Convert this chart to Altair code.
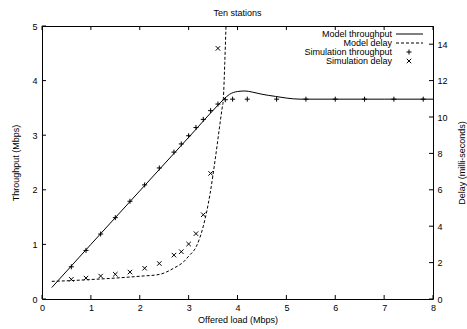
import altair as alt
import pandas as pd

FONT = "Liberation Sans"

# ---- data ----
x_ticks = [0, 1, 2, 3, 4, 5, 6, 7, 8]
tp_ticks = [0, 1, 2, 3, 4, 5]
delay_ticks = [0, 2, 4, 6, 8, 10, 12, 14]

model_tp_load = [0.2, 1.0, 2.0, 3.0, 3.6, 3.72, 3.84, 4.0, 4.15, 4.3, 4.5, 4.78, 5.0, 5.28, 6.0, 7.0, 8.0]
model_tp = [0.21, 1.0, 1.98, 2.96, 3.55, 3.66, 3.75, 3.80, 3.81, 3.79, 3.75, 3.71, 3.68, 3.66, 3.66, 3.66, 3.66]

model_delay_load = [0.2, 0.5, 1.0, 1.5, 2.0, 2.4, 2.7, 2.9, 3.0, 3.16, 3.3, 3.44, 3.54, 3.63, 3.68, 3.71, 3.74, 3.765]
model_delay = [0.97, 1.0, 1.07, 1.15, 1.25, 1.35, 1.7, 2.05, 2.35, 2.9, 4.0, 5.8, 7.6, 9.4, 10.4, 11.0, 13.0, 15.0]

sim_tp_load = [0.6, 0.9, 1.2, 1.5, 1.8, 2.1, 2.4, 2.7, 2.85, 3.0, 3.15, 3.3, 3.45, 3.6, 3.75, 3.9, 4.2, 4.8, 5.4, 6.0, 6.6, 7.2, 7.8]
sim_tp = [0.59, 0.89, 1.19, 1.49, 1.79, 2.09, 2.40, 2.69, 2.84, 2.99, 3.14, 3.29, 3.45, 3.57, 3.65, 3.66, 3.66, 3.66, 3.66, 3.66, 3.66, 3.66, 3.66]

sim_delay_load = [0.6, 0.9, 1.2, 1.5, 1.8, 2.1, 2.4, 2.7, 2.85, 3.0, 3.15, 3.3, 3.45, 3.6]
sim_delay = [1.08, 1.15, 1.26, 1.36, 1.48, 1.69, 1.95, 2.41, 2.60, 3.02, 3.59, 4.63, 6.9, 13.77]

legend_labels = ["Model throughput", "Model delay", "Simulation throughput", "Simulation delay"]

# ---- layout / style ----
W, H = 391, 273
TICK = 4
PLUS = "M-1,0L1,0M0,-1L0,1"
CROSS = "M-1,-1L1,1M-1,1L1,-1"
PLUS_SIZE = 25
CROSS_SIZE = 20

xscale = alt.Scale(domain=[0, 8], nice=False, zero=False)
ytp_scale = alt.Scale(domain=[0, 5], nice=False)
yd_scale = alt.Scale(domain=[0, 15], nice=False)

common = dict(ticks=False, domain=False, grid=False, labelFontSize=9, titleFontSize=9,
              labelFont=FONT, titleFont=FONT, titleFontWeight="normal",
              labelColor="black", titleColor="black", labelFlush=False, labelOverlap=False)

x_axis = alt.Axis(title="Offered load (Mbps)", values=x_ticks, orient="bottom",
                  labelPadding=4, titlePadding=3, **common)
y_axis = alt.Axis(title="Throughput (Mbps)", values=tp_ticks, orient="left",
                  labelPadding=5, titlePadding=11, **common)
y2_axis = alt.Axis(title="Delay (milli-seconds)", values=delay_ticks, orient="right",
                   labelPadding=4, titlePadding=10, titleAngle=270, titleBaseline="top", **common)

X = alt.X("load:Q", scale=xscale, axis=x_axis)

df_mtp = pd.DataFrame({"load": model_tp_load, "tp": model_tp})
df_stp = pd.DataFrame({"load": sim_tp_load, "tp": sim_tp})
df_md = pd.DataFrame({"load": model_delay_load, "delay": model_delay})
df_sd = pd.DataFrame({"load": sim_delay_load, "delay": sim_delay})

Ytp = alt.Y("tp:Q", scale=ytp_scale, axis=y_axis)
Yd = alt.Y("delay:Q", scale=yd_scale, axis=y2_axis)

mtp_line = alt.Chart(df_mtp).mark_line(color="black", strokeWidth=1, interpolate="monotone").encode(x=X, y=Ytp)
stp_pts = alt.Chart(df_stp).mark_point(shape=PLUS, size=PLUS_SIZE, filled=False, color="black", strokeWidth=1, opacity=1).encode(x=X, y=Ytp)
left_ticks = alt.Chart(pd.DataFrame({"tp": tp_ticks})).mark_rule(color="black", strokeWidth=1).encode(
    y=Ytp, x=alt.value(0), x2=alt.value(TICK))

md_line = alt.Chart(df_md).mark_line(color="black", strokeWidth=1, strokeDash=[3, 2], interpolate="monotone", clip=True).encode(x=X, y=Yd)
sd_pts = alt.Chart(df_sd).mark_point(shape=CROSS, size=CROSS_SIZE, filled=False, color="black", strokeWidth=1, opacity=1).encode(x=X, y=Yd)
right_ticks = alt.Chart(pd.DataFrame({"delay": delay_ticks})).mark_rule(color="black", strokeWidth=1).encode(
    y=Yd, x=alt.value(W - TICK), x2=alt.value(W))

df_xt = pd.DataFrame({"load": x_ticks})
bottom_ticks = alt.Chart(df_xt).mark_rule(color="black", strokeWidth=1).encode(x=X, y=alt.value(H - TICK), y2=alt.value(H))
top_ticks = alt.Chart(df_xt).mark_rule(color="black", strokeWidth=1).encode(x=X, y=alt.value(0), y2=alt.value(TICK))

# ---- legend (text right-aligned, samples on the right) ----
LX_TEXT, LX0, LX1, LXC = 350, 354, 381, 367
rows = [8, 17, 26, 35]
leg = []
for i, lab in enumerate(legend_labels):
    leg.append(alt.Chart(pd.DataFrame({"label": [lab]})).mark_text(
        align="right", baseline="middle", fontSize=9, font=FONT, color="black").encode(
        text="label:N", x=alt.value(LX_TEXT), y=alt.value(rows[i])))
leg.append(alt.Chart(pd.DataFrame({"label": [legend_labels[0]]})).mark_rule(color="black", strokeWidth=1).encode(
    x=alt.value(LX0), x2=alt.value(LX1), y=alt.value(rows[0])))
leg.append(alt.Chart(pd.DataFrame({"label": [legend_labels[1]]})).mark_rule(color="black", strokeWidth=1, strokeDash=[3, 2]).encode(
    x=alt.value(LX0), x2=alt.value(LX1), y=alt.value(rows[1])))
leg.append(alt.Chart(pd.DataFrame({"label": [legend_labels[2]]})).mark_point(shape=PLUS, size=PLUS_SIZE, filled=False, color="black", strokeWidth=1, opacity=1).encode(
    x=alt.value(LXC), y=alt.value(rows[2])))
leg.append(alt.Chart(pd.DataFrame({"label": [legend_labels[3]]})).mark_point(shape=CROSS, size=CROSS_SIZE, filled=False, color="black", strokeWidth=1, opacity=1).encode(
    x=alt.value(LXC), y=alt.value(rows[3])))

left = alt.layer(mtp_line, stp_pts, left_ticks)
right = alt.layer(md_line, sd_pts, right_ticks)

chart = alt.layer(left, right, bottom_ticks, top_ticks, *leg).resolve_scale(y="independent").properties(
    width=W, height=H,
    title=alt.TitleParams("Ten stations", fontSize=9, font=FONT, fontWeight="normal", color="black", anchor="middle", offset=4),
    autosize=alt.AutoSizeParams(type="none"),
    padding={"left": 42, "top": 26, "right": 34, "bottom": 30},
    background="white",
).configure_view(stroke="black", strokeWidth=1)

chart.save("out.html", embed_options={"renderer": "svg", "actions": False})
